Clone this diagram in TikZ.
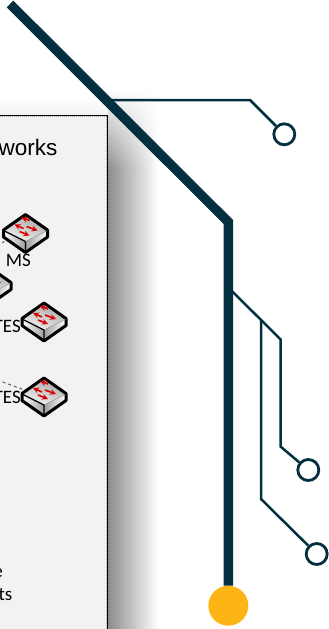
\documentclass[tikz,border=0pt]{standalone}
\usepackage{fontspec}
\setmainfont{Carlito}
\newfontfamily\titlefont{Liberation Sans}
\usetikzlibrary{fadings}
\definecolor{cbnavy}{HTML}{03303F}
\definecolor{cbyellow}{HTML}{FDB515}
\definecolor{cbpanel}{HTML}{F2F2F2}
\tikzstyle{trunk} = [line width=9.5pt, cbnavy]
\tikzstyle{branch} = [line width=2.5pt, cbnavy, line join=miter]
\tikzstyle{pinhead} = [circle, minimum size=21pt, inner sep=0pt, line width=2.8pt, draw=cbnavy, fill=white]
\tikzstyle{terminal} = [circle, minimum size=40pt, inner sep=0pt, fill=cbyellow]
\tikzstyle{caption} = [inner sep=0pt, font=\fontsize{19}{19}\selectfont, anchor=base east]
\tikzstyle{link} = [dashed, gray!80!black, line width=1.1pt]
\tikzstyle{flow} = [red!85!black, line width=1.6pt, -stealth]
\tikzset{
  switch/.pic={
    \coordinate (-nw) at (-22,-7);
    \coordinate (-sw) at (-21,9);
    \shade[top color=gray!70, bottom color=gray!10, shading angle=-20] (0,-18) -- (22,-2) -- (0,9) -- (-22,-2) -- cycle;
    \shade[left color=white, right color=gray!75] (-22,-2) -- (0,9) -- (0,20) -- (-22,5) -- cycle;
    \shade[left color=gray!75, right color=white] (0,9) -- (22,-2) -- (22,5) -- (0,20) -- cycle;
    \draw[line width=3pt, line join=round] (0,-18) -- (22,-2.5) -- (22,4.5) -- (0,20) -- (-22,4.5) -- (-22,-2.5) -- cycle;
    \draw[line width=1.2pt] (-22,-2) -- (0,9) -- (0,20);
    \draw[line width=0.4pt, gray] (0,9) -- (22,-2);
    \draw[flow] (4,-12) -- (-4,-15);
    \draw[flow] (-2,-4) -- (-11,-8);
    \draw[flow] (1,-6) -- (12,-2);
    \draw[flow] (-6,-1) -- (4,3);
  }
}
\begin{document}
\begin{tikzpicture}[x=1pt, y=-1pt]
\useasboundingbox (0,0) rectangle (329,629);
\begin{scope}
\clip (0,0) rectangle (329,629);
% ------------------------- panel -------------------------
\shade[left color=gray!90, right color=white] (108,92) rectangle (158,629);
\fill[white, path fading=south] (108,90) rectangle (160,170);
\fill[top color=white, bottom color=gray!10] (0,96) rectangle (108,114);
\node(panel)[rectangle, anchor=north east, minimum width=130pt, minimum height=530pt, draw=black, line width=0.9pt, fill=cbpanel] at (108,114.5) {};
\draw[gray!70, densely dotted, line width=1pt] (0,116) -- (106.8,116) -- (106.8,629);
% ------------------------- switches -------------------------
\coordinate (far1) at (-3,245.5);
\coordinate (far4) at (-3,380);
\pic (sw1) at (25.5,232.5) {switch};
\pic (sw2) at (-11,285) {switch};
\pic (sw3) at (44,321) {switch};
\pic (sw4) at (44,396) {switch};
\draw[link] (far4) -- (sw4-nw);
\draw[link] (far1) -- (sw1-sw);
% ------------------------- texts -------------------------
\node(title)[inner sep=0pt, anchor=base east, font=\fontsize{22.5}{22.5}\selectfont\titlefont] at (57.5,155) {works};
\node(ms)[caption] at (31,266) {MS};
\node(es3)[caption] at (21,332) {TES};
\node(frag)[caption] at (1,357) {d};
\node(es4)[caption] at (21,403) {TES};
\node(frag2)[caption] at (3,577) {e};
\node(frag3)[caption] at (12.5,600) {ts};
% ------------------------- lines -------------------------
\node(pin1)[pinhead] at (284.3,134.3) {};
\node(pin2)[pinhead] at (308.3,470) {};
\node(pin3)[pinhead] at (316.7,554) {};
\node(end)[terminal] at (228.3,605.7) {};
\coordinate (start) at (10,4);
\coordinate (bend) at (228.3,222);
\coordinate (tap1) at (110,100);
\coordinate (tap2) at (228.3,287.5);
\coordinate (tap3) at (261,320);
\draw[trunk] (start) -- (bend) -- (end);
\draw[branch] (tap1) -- (250,100) -- (pin1);
\draw[branch] (tap2) -- (280.7,339.5) -- (280.7,446.7) -- (pin2);
\draw[branch] (tap3) -- (261,499) -- (pin3);
\end{scope}
\end{tikzpicture}
\end{document}
